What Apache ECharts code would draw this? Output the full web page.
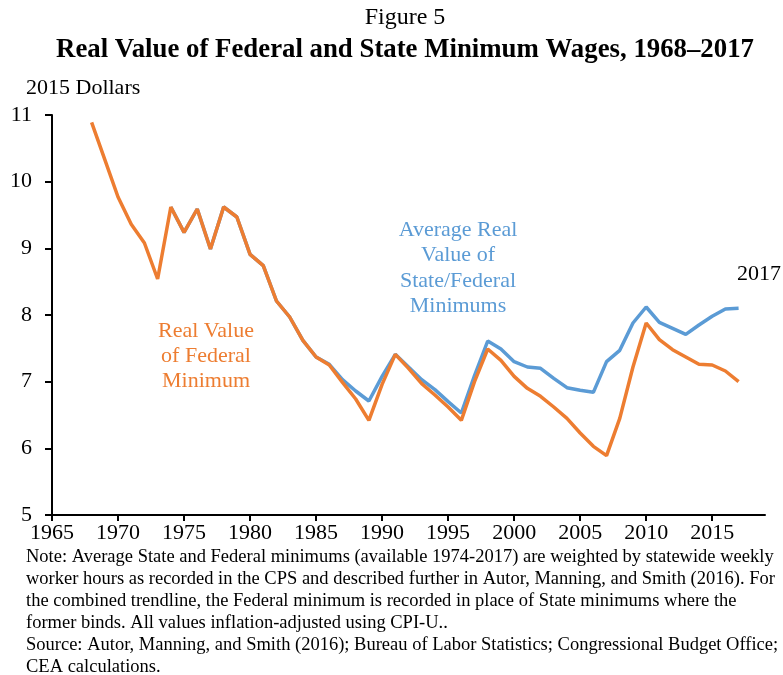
<!DOCTYPE html>
<html>
<head>
<meta charset="utf-8">
<script src="https://cdn.jsdelivr.net/npm/echarts@6/dist/echarts.min.js"></script>
<style>
  html, body { margin: 0; padding: 0; background: #fff; }
  #container { width: 783px; height: 675px; }
</style>
</head>
<body>
<div id="container"></div>
<script>
// years and values (2015 dollars)
var fedYears = [1968, 1969, 1970, 1971, 1972, 1973, 1974, 1975, 1976, 1977,
    1978, 1979, 1980, 1981, 1982, 1983, 1984, 1985, 1986, 1987,
    1988, 1989, 1990, 1991, 1992, 1993, 1994, 1995, 1996, 1997,
    1998, 1999, 2000, 2001, 2002, 2003, 2004, 2005, 2006, 2007,
    2008, 2009, 2010, 2011, 2012, 2013, 2014, 2015, 2016, 2017];
var fedValues = [10.89, 10.33, 9.77, 9.36, 9.08, 8.54, 9.62, 9.24, 9.59, 8.99,
    9.62, 9.47, 8.91, 8.74, 8.21, 7.97, 7.62, 7.37, 7.25, 6.99,
    6.74, 6.42, 6.96, 7.41, 7.20, 6.97, 6.80, 6.62, 6.42, 7.00,
    7.49, 7.32, 7.08, 6.90, 6.78, 6.62, 6.45, 6.23, 6.03, 5.89,
    6.45, 7.22, 7.88, 7.63, 7.48, 7.37, 7.26, 7.25, 7.16, 7.00];

// state/federal average, available 1974-2017
var stateYears = [1974, 1975, 1976, 1977, 1978, 1979, 1980, 1981, 1982, 1983,
    1984, 1985, 1986, 1987, 1988, 1989, 1990, 1991, 1992, 1993,
    1994, 1995, 1996, 1997, 1998, 1999, 2000, 2001, 2002, 2003,
    2004, 2005, 2006, 2007, 2008, 2009, 2010, 2011, 2012, 2013,
    2014, 2015, 2016, 2017];
var stateValues = [9.62, 9.24, 9.59, 8.99, 9.62, 9.47, 8.91, 8.74, 8.21, 7.97,
    7.62, 7.37, 7.26, 7.03, 6.86, 6.71, 7.08, 7.41, 7.22, 7.03,
    6.88, 6.70, 6.53, 7.09, 7.61, 7.49, 7.30, 7.22, 7.20, 7.05,
    6.91, 6.87, 6.84, 7.30, 7.47, 7.88, 8.12, 7.89, 7.80, 7.71,
    7.85, 7.98, 8.09, 8.10];

var xTicks = [1965, 1970, 1975, 1980, 1985, 1990, 1995, 2000, 2005, 2010, 2015];

var noteLines = [
    'Note: Average State and Federal minimums (available 1974-2017) are weighted by statewide weekly',
    'worker hours as recorded in the CPS and described further in Autor, Manning, and Smith (2016). For',
    'the combined trendline, the Federal minimum is recorded in place of State minimums where the',
    'former binds. All values inflation-adjusted using CPI-U..',
    'Source: Autor, Manning, and Smith (2016); Bureau of Labor Statistics; Congressional Budget Office;',
    'CEA calculations.'
];

var serif = '"Liberation Serif", "Times New Roman", serif';
var orange = '#ED7D31';
var blue = '#5B9BD5';

var pairs = function (xs, ys) {
    var out = [];
    for (var i = 0; i < xs.length; i++) {
        out.push([xs[i], ys[i]]);
    }
    return out;
};

var dom = document.getElementById('container');
var myChart = echarts.init(dom);

var option = {
    animation: false,
    backgroundColor: '#fff',
    textStyle: { fontFamily: serif, color: '#000' },
    grid: { left: 52, right: 18, top: 115, bottom: 160, containLabel: false },
    xAxis: {
        type: 'value',
        min: 1965,
        max: 2019,
        splitLine: { show: false },
        axisLine: { lineStyle: { color: '#000', width: 2 } },
        axisTick: { show: true, length: 6, customValues: xTicks, lineStyle: { color: '#000', width: 2 } },
        axisLabel: {
            customValues: xTicks,
            formatter: function (v) { return String(v); },
            margin: 7,
            fontFamily: serif,
            fontSize: 22,
            color: '#000'
        }
    },
    yAxis: {
        type: 'value',
        min: 5,
        max: 11,
        interval: 1,
        splitLine: { show: false },
        axisLine: { show: true, lineStyle: { color: '#000', width: 2 } },
        axisTick: { show: true, length: 7, lineStyle: { color: '#000', width: 2 } },
        axisLabel: { margin: 20, fontFamily: serif, fontSize: 22, color: '#000' }
    },
    series: [
        {
            name: 'Average Real Value of State/Federal Minimums',
            type: 'line',
            data: pairs(stateYears, stateValues),
            showSymbol: false,
            lineStyle: { color: blue, width: 3.5 },
            itemStyle: { color: blue },
            z: 2
        },
        {
            name: 'Real Value of Federal Minimum',
            type: 'line',
            data: pairs(fedYears, fedValues),
            showSymbol: false,
            lineStyle: { color: orange, width: 3.5 },
            itemStyle: { color: orange },
            z: 3
        }
    ],
    graphic: [
        {
            type: 'text', x: 405, y: 6,
            style: { text: 'Figure 5', font: '24px ' + serif, fill: '#000', align: 'center' }
        },
        {
            type: 'text', x: 405, y: 37,
            style: { text: 'Real Value of Federal and State Minimum Wages, 1968–2017', font: 'bold 26.8px ' + serif, fill: '#000', align: 'center' }
        },
        {
            type: 'text', left: 26, top: 77,
            style: { text: '2015 Dollars', font: '22px ' + serif, fill: '#000' }
        },
        {
            type: 'text', x: 206, y: 319,
            style: {
                text: 'Real Value\nof Federal\nMinimum',
                font: '22px ' + serif, fill: orange, align: 'center', lineHeight: 25
            }
        },
        {
            type: 'text', x: 458, y: 217,
            style: {
                text: 'Average Real\nValue of\nState/Federal\nMinimums',
                font: '22px ' + serif, fill: blue, align: 'center', lineHeight: 25.5
            }
        },
        {
            type: 'text', x: 737, y: 263,
            style: { text: '2017', font: '22px ' + serif, fill: '#000' }
        },
        {
            type: 'text', x: 26, y: 546,
            style: { text: noteLines.join('\n'), font: '18.5px ' + serif, fill: '#000', lineHeight: 22 }
        }
    ]
};

if (option && typeof option === 'object') {
    myChart.setOption(option);
}
</script>
</body>
</html>
